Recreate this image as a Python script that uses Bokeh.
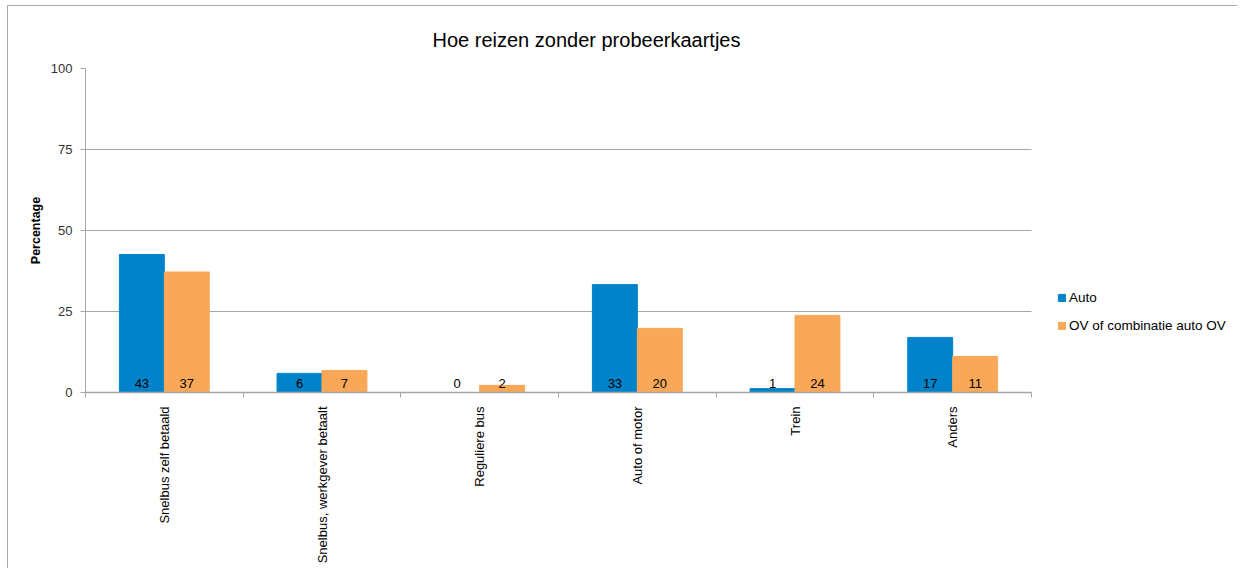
import math
from bokeh.plotting import figure
from bokeh.models import (ColumnDataSource, Range1d, FixedTicker, Legend, LegendItem)
from bokeh.transform import dodge
from bokeh.embed import file_html
from bokeh.resources import INLINE

categories = ["Snelbus zelf betaald", "Snelbus, werkgever betaalt", "Reguliere bus",
              "Auto of motor", "Trein", "Anders"]
auto = [42.6, 5.9, 0.0, 33.3, 1.2, 17.0]
ov = [37.2, 6.8, 2.2, 19.8, 23.8, 11.1]
auto_labels = ["43", "6", "0", "33", "1", "17"]
ov_labels = ["37", "7", "2", "20", "24", "11"]
series_names = ["Auto", "OV of combinatie auto OV"]
y_ticks = [0, 25, 50, 75, 100]

BLUE = "#0083CB"
ORANGE = "#F9A857"
GRID = "#a6a6a6"
FONT = "Liberation Sans"

n = len(categories)
pos = [i + 0.5 for i in range(n)]
src = ColumnDataSource(dict(x=pos, auto=auto, ov=ov, al=auto_labels, ol=ov_labels,
                            zero=[0] * n))

W, H = 1230, 563
LEFT, RIGHT = 77, 5
frame_w = W - LEFT - RIGHT
cat_px = 946 / n              # pixel width of one category group
x_end = frame_w / cat_px      # extend the range so the legend sits inside the frame

p = figure(width=W, height=H, output_backend="svg", toolbar_location=None,
           x_range=Range1d(0, x_end), y_range=Range1d(0, 100),
           min_border_left=LEFT, min_border_right=RIGHT, min_border_top=62, min_border_bottom=177)
p.styles = {"margin-left": "7px", "margin-top": "5px",
            "border-top": "1px solid #a8a8a8", "border-left": "1px solid #a8a8a8"}

p.title.text = "Hoe reizen zonder probeerkaartjes"
p.title.text_font = FONT
p.title.text_font_size = "20px"
p.title.text_font_style = "normal"
p.title.align = "left"
p.title.offset = 347
p.title.standoff = 31
p.title.vertical_align = "top"
p.title.text_color = "#000000"

# horizontal grid limited to the category area
p.xgrid.visible = False
try:
    p.ygrid.cross_bounds = (0, n)
    p.ygrid.ticker = FixedTicker(ticks=y_ticks)
    p.ygrid.grid_line_color = GRID
    p.ygrid.grid_line_width = 1
except Exception:
    p.ygrid.visible = False
    gsrc = ColumnDataSource(dict(y=y_ticks[1:], x0=[0] * 4, x1=[n] * 4))
    p.segment(x0="x0", x1="x1", y0="y", y1="y", source=gsrc, line_color=GRID, line_width=1)

bw = 0.285
r1 = p.vbar(x=dodge("x", -0.1425, range=p.x_range), top="auto", width=bw, source=src,
            fill_color=BLUE, line_color=BLUE)
r2 = p.vbar(x=dodge("x", 0.1425, range=p.x_range), top="ov", width=bw, source=src,
            fill_color=ORANGE, line_color=ORANGE)

for col, off in (("al", -0.1425), ("ol", 0.1425)):
    p.text(x=dodge("x", off, range=p.x_range), y="zero", text=col, source=src,
           text_align="center", text_baseline="alphabetic", y_offset=-9,
           text_font_size="13px", text_color="#000000", text_font={"value": FONT})

ya = p.yaxis[0]
ya.ticker = FixedTicker(ticks=y_ticks)
ya.axis_line_color = GRID
ya.major_tick_line_color = GRID
ya.major_tick_out = 5
ya.major_tick_in = 0
ya.minor_tick_line_color = None
ya.major_label_text_font = FONT
ya.major_label_text_font_size = "13px"
ya.major_label_text_color = "#333333"
ya.major_label_standoff = 8
ya.axis_label = "Percentage"
ya.axis_label_text_font = FONT
ya.axis_label_text_font_size = "12.5px"
ya.axis_label_text_font_style = "bold"
ya.axis_label_text_color = "#000000"
ya.axis_label_standoff = 5

xa = p.xaxis[0]
xa.bounds = (0, n)
xa.ticker = FixedTicker(ticks=pos, minor_ticks=list(range(n + 1)))
xa.major_label_overrides = {x: c for x, c in zip(pos, categories)}
xa.major_label_orientation = math.pi / 2
xa.major_label_text_font = FONT
xa.major_label_text_font_size = "13px"
xa.major_label_text_color = "#000000"
xa.major_label_standoff = 8
xa.axis_line_color = GRID
xa.axis_line_width = 1.5
xa.major_tick_line_color = None
xa.minor_tick_line_color = GRID
xa.minor_tick_out = 5
xa.minor_tick_in = 0

p.outline_line_color = None

legend = Legend(items=[LegendItem(label=series_names[0], renderers=[r1]),
                       LegendItem(label=series_names[1], renderers=[r2])],
                location=(946 + 26, 57), glyph_width=9, glyph_height=9, label_standoff=3,
                label_text_font=FONT, label_text_font_size="13.5px", label_height=20,
                spacing=8, padding=0, margin=0, border_line_color=None,
                background_fill_alpha=0, label_text_color="#000000")
p.add_layout(legend, "center")

open("out.html", "w").write(file_html(p, INLINE))
